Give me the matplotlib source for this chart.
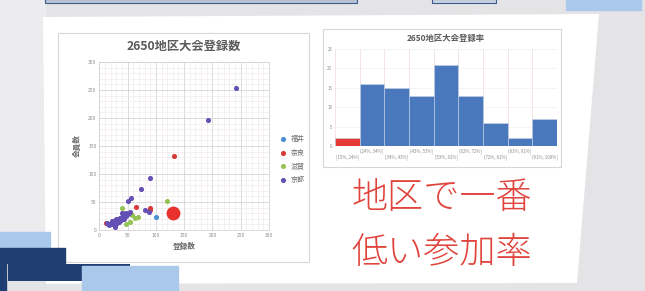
import matplotlib.pyplot as plt
from matplotlib.patches import Rectangle, Polygon

plt.rcParams['font.family'] = ['Noto Sans CJK JP', 'DejaVu Sans']

# scatter data (登録数, 会員数) per area
fukui_x = [101, 30, 44]
fukui_y = [24, 15, 25]
nara_x = [132, 90, 89, 64, 12, 36]
nara_y = [132, 39, 36, 41, 13, 21]
shiga_x = [119, 40, 45, 69, 63, 54, 48, 58, 42, 35]
shiga_y = [52, 40, 30, 23, 21, 15, 10, 27, 22, 18]
kyoto_x = [241, 193, 90, 74, 56, 51, 81, 87, 54, 48, 45, 42, 40, 38, 36, 34, 33,
           31, 30, 28, 26, 25, 24, 22, 20, 18, 16, 14, 28, 32, 35, 38, 43, 27,
           47, 50, 41, 29, 23]
kyoto_y = [254, 197, 93, 73, 58, 52, 36, 33, 33, 30, 28, 26, 24, 22, 21, 20, 18,
           17, 16, 15, 14, 12, 11, 13, 10, 9, 11, 13, 8, 12, 14, 17, 20, 5,
           25, 28, 30, 19, 16]
# the highlighted club (big red dot)
low_x = [130]
low_y = [31]

# histogram of 登録率
bins = ['[15%, 24%]', '(24%, 34%]', '(34%, 43%]', '(43%, 53%]', '(53%, 62%]',
        '(62%, 72%]', '(72%, 81%]', '(81%, 91%]', '(91%, 100%]']
counts = [2, 16, 15, 13, 21, 13, 6, 2, 7]

W, H = 645, 291
fig = plt.figure(figsize=(W / 100, H / 100), dpi=100)
fig.patch.set_facecolor('#e4e4e6')

# background / decoration layer in pixel coordinates
bg = fig.add_axes([0, 0, 1, 1], zorder=0)
bg.set_xlim(0, W)
bg.set_ylim(H, 0)
bg.axis('off')
bg.add_patch(Rectangle((0, 0), 45, 232, color='#ececee'))
bg.add_patch(Rectangle((45, -1), 312, 4, facecolor='#b8c4d6', edgecolor='#3c5a8c', lw=0.8))
bg.add_patch(Rectangle((432, -1), 64, 4, facecolor='#c8d2e0', edgecolor='#3c5a8c', lw=0.8))
bg.add_patch(Rectangle((566, 0), 75, 10, color='#a9c8ea'))
bg.add_patch(Polygon([(43, 17), (599, 14), (577, 283), (46, 284)], closed=True,
                     facecolor='white', edgecolor='none'))
# chart frames
bg.add_patch(Rectangle((58, 33), 251, 229, facecolor='white', edgecolor='#d6d6d6', lw=0.8))
bg.add_patch(Rectangle((323, 29), 238, 138, facecolor='white', edgecolor='#d6d6d6', lw=0.8))
# bottom-left blocks
bg.add_patch(Rectangle((0, 232), 50, 15, color='#a9c8ea'))
bg.add_patch(Rectangle((0, 248), 65, 15, color='#1f3f73'))
bg.add_patch(Rectangle((0, 264), 6, 27, color='#1f3f73'))
bg.add_patch(Rectangle((8, 264), 122, 17, facecolor='#1f3f73', edgecolor='none'))
bg.add_patch(Rectangle((46, 284), 530, 7, color='#e4e4e6'))
bg.add_patch(Rectangle((82, 266), 96, 25, color='#a9c8ea'))

# red caption
bg.text(442, 198, '地区で一番', color='#e0443c', fontsize=26, fontweight='light',
        ha='center', va='center')
bg.text(442, 253, '低い参加率', color='#e0443c', fontsize=26, fontweight='light',
        ha='center', va='center')

# ---- scatter ----
ax = fig.add_axes([99.3 / W, 1 - 230 / H, 169.7 / W, 168 / H], zorder=2)
ax.set_facecolor('white')
ax.scatter(fukui_x, fukui_y, s=7, color='#4a8fd4', label='福井', zorder=3)
ax.scatter(nara_x, nara_y, s=7, color='#d63a36', label='奈良', zorder=3)
ax.scatter(shiga_x, shiga_y, s=7, color='#94c255', label='滋賀', zorder=3)
ax.scatter(kyoto_x, kyoto_y, s=7, color='#6450b4', label='京都', zorder=3)
ax.scatter(low_x, low_y, s=80, color='#e8302c', zorder=4)
ax.set_xlim(0, 300)
ax.set_ylim(0, 300)
ax.set_xticks(range(0, 301, 50))
ax.set_yticks(range(0, 301, 50))
ax.set_xticks(range(0, 301, 10), minor=True)
ax.set_yticks(range(0, 301, 10), minor=True)
ax.grid(which='major', color='#d4d4d4', lw=0.6)
ax.grid(which='minor', color='#f0e6e6', lw=0.4)
ax.tick_params(which='both', length=0, labelsize=3.5, labelcolor='#8a8a8a', pad=2)
for s in ax.spines.values():
    s.set_color('#d4d4d4')
    s.set_linewidth(0.6)
ax.set_title('2650地区大会登録数', fontsize=8.8, fontweight='bold', color='#5a5a5a', pad=9)
ax.set_xlabel('登録数', fontsize=5.5, fontweight='bold', color='#6a6a6a', labelpad=3)
ax.set_ylabel('会員数', fontsize=5.5, fontweight='bold', color='#6a6a6a', labelpad=5)
ax.legend(loc='center left', bbox_to_anchor=(1.0, 0.42), frameon=False, fontsize=5,
          labelcolor='#6a6a6a', handletextpad=0.1, labelspacing=0.8, markerscale=1.0,
          borderaxespad=0.6)

# ---- histogram ----
hx = fig.add_axes([335 / W, 1 - 146 / H, 222 / W, 97 / H], zorder=2)
hx.set_facecolor('white')
colors = ['#e63a36'] + ['#4a78bc'] * (len(counts) - 1)
hx.bar(range(len(counts)), counts, width=1.0, color=colors, edgecolor='#c8d4e6', lw=0.4, zorder=3)
hx.set_xlim(-0.5, len(counts) - 0.5)
hx.set_ylim(0, 25)
hx.set_yticks(range(0, 26, 5))
hx.set_xticks(range(len(counts)))
hx.set_xticklabels(['\n' + b if i % 2 == 0 else b for i, b in enumerate(bins)])
hx.set_xticks([i - 0.5 for i in range(len(counts) + 1)], minor=True)
hx.grid(axis='x', which='minor', color='#f0dada', lw=0.5)
hx.grid(axis='y', which='major', color='#ececec', lw=0.4)
hx.tick_params(which='both', length=0, labelsize=3.2, labelcolor='#8a8a8a', pad=2)
for s in hx.spines.values():
    s.set_visible(False)
hx.set_title('2650地区大会登録率', fontsize=6, fontweight='bold', color='#5a5a5a', pad=6)

fig.savefig('out.png', dpi=100)
